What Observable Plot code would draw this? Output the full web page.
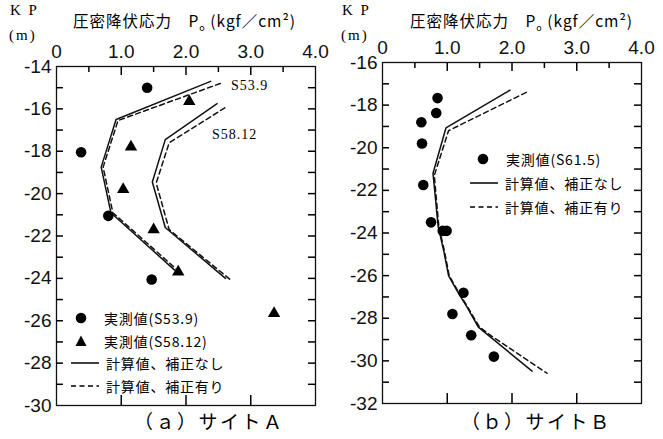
<!DOCTYPE html>
<html><head><meta charset="utf-8">
<script src="https://cdn.jsdelivr.net/npm/d3@7"></script>
<script src="https://cdn.jsdelivr.net/npm/@observablehq/plot@0.6"></script>
<style>
body{margin:0;background:#fff;}
#wrap{position:relative;width:663px;height:439px;overflow:hidden;font-family:"Noto Sans CJK JP",sans-serif;color:#000;}
.abs{position:absolute;white-space:nowrap;}
.panel{position:absolute;top:0;}
.leg{position:absolute;display:flex;align-items:center;font-size:14px;letter-spacing:0.8px;white-space:nowrap;}
.leg svg{margin-right:6px;}
</style></head>
<body><div id="wrap"></div>
<script>
// ---- Panel A (サイトA) ----
const aObs539X = [1.40, 0.38, 0.80, 1.47];
const aObs539Y = [-15.0, -18.05, -21.05, -24.05];
const aObs5812X = [2.05, 1.15, 1.03, 1.50, 1.88, 3.36];
const aObs5812Y = [-15.65, -17.8, -19.8, -21.7, -23.7, -25.65];
const aCalc539NoX = [2.38, 0.92, 0.69, 0.84, 1.82];
const aCalc539NoY = [-14.7, -16.5, -18.75, -20.9, -23.6];
const aCalc539CorX = [2.53, 0.95, 0.72, 0.87, 1.92];
const aCalc539CorY = [-14.8, -16.55, -18.75, -20.9, -23.75];
const aCalc5812NoX = [2.48, 1.68, 1.48, 1.68, 2.61];
const aCalc5812NoY = [-15.75, -17.45, -19.45, -21.6, -24.0];
const aCalc5812CorX = [2.60, 1.74, 1.54, 1.74, 2.70];
const aCalc5812CorY = [-15.95, -17.6, -19.5, -21.7, -24.1];
// ---- Panel B (サイトB) ----
const bObsX = [0.85, 0.83, 0.60, 0.61, 0.63, 0.75, 0.93, 0.99, 1.25, 1.08, 1.37, 1.72];
const bObsY = [-17.67, -18.37, -18.8, -19.8, -21.75, -23.5, -23.9, -23.9, -26.8, -27.8, -28.8, -29.8];
const bCalcNoX = [1.97, 0.98, 0.78, 0.86, 0.95, 1.02, 1.15, 1.31, 1.48, 2.31];
const bCalcNoY = [-17.3, -19.07, -21.2, -23.7, -24.9, -26.0, -26.7, -27.5, -28.42, -30.48];
const bCalcCorX = [2.22, 1.02, 0.80, 0.87, 0.96, 1.03, 1.16, 1.32, 1.50, 1.69, 2.54];
const bCalcCorY = [-17.4, -19.2, -21.3, -23.7, -24.9, -26.0, -26.7, -27.5, -28.42, -28.85, -30.58];
// ---- ticks / labels ----
const xTicks = [0, 1, 2, 3, 4];
const xHalf = [0.5, 1.5, 2.5, 3.5];
const xMajor = [1, 2, 3];
const aYTicks = [-14, -16, -18, -20, -22, -24, -26, -28, -30];
const bYTicks = [-16, -18, -20, -22, -24, -26, -28, -30, -32];
const xLabel = "圧密降伏応力　P<sub style='font-size:9px'>o</sub> (kgf／cm²)";
const captions = ["（ａ）サイトＡ", "（ｂ）サイトＢ"];
const legA = ["実測値(S53.9)", "実測値(S58.12)", "計算値、補正なし", "計算値、補正有り"];
const legB = ["実測値(S61.5)", "計算値、補正なし", "計算値、補正有り"];
const annA = ["S53.9", "S58.12"];

const pts = (xs, ys) => xs.map((x, i) => ({x, y: ys[i]}));
const FONT = "Liberation Sans, Arial, sans-serif";

function panel({left, width, ml, mr, mt, mb, yDomain, yTicks, series, dots}) {
  const innerW = width - ml - mr;
  const innerH = 439 - mt - mb;
  const [yLo, yHi] = yDomain;
  const px = innerW / 4;                 // pixels per x unit
  const py = innerH / (yHi - yLo);       // pixels per y unit
  const yMinor = d3.range(yLo + 1, yHi, 1);
  const st = {stroke: "#000", strokeWidth: 1.5};
  const marks = [
    Plot.frame({stroke: "#111", strokeWidth: 1.3}),
    // inward ticks
    Plot.ruleX(xHalf, {...st, x: d => d, y1: yHi, y2: yHi - 6 / py}),
    Plot.ruleX(xMajor, {...st, x: d => d, y1: yHi, y2: yHi - 9 / py}),
    Plot.ruleX(xMajor, {...st, x: d => d, y1: yLo, y2: yLo + 10 / py}),
    Plot.ruleY(yMinor, {...st, y: d => d, x1: 0, x2: 7 / px}),
    Plot.ruleY(yMinor, {...st, y: d => d, x1: 4, x2: 4 - 7 / px}),
    Plot.axisX({anchor: "top", ticks: xTicks, tickSize: 0, tickPadding: 9, fontSize: 19, label: null,
      tickFormat: d => d === 0 ? "0" : d.toFixed(1)}),
    Plot.axisY({anchor: "left", ticks: yTicks, tickSize: 0, tickPadding: 5, fontSize: 19, label: null,
      tickFormat: d => String(d)})
  ];
  for (const s of series) {
    marks.push(Plot.line(s.data, {x: "x", y: "y", stroke: "#111", strokeWidth: 1.5,
      strokeDasharray: s.dash ? "5,3.5" : null}));
  }
  for (const d of dots) {
    marks.push(Plot.dot(d.data, {x: "x", y: "y", fill: "#000", stroke: "none",
      symbol: d.symbol, r: d.symbol === "triangle" ? 4.6 : 5.3}));
  }
  const svg = Plot.plot({
    width, height: 439, marginLeft: ml, marginRight: mr, marginTop: mt, marginBottom: mb,
    x: {domain: [0, 4], axis: null, label: null},
    y: {domain: yDomain, axis: null, label: null},
    style: {fontFamily: FONT, fontSize: "19px", color: "#111", background: "transparent"},
    marks
  });
  svg.classList.add("panel");
  svg.style.left = left + "px";
  return svg;
}

const wrap = document.getElementById("wrap");
wrap.appendChild(panel({
  left: 0, width: 330, ml: 56, mr: 15, mt: 66, mb: 34, yDomain: [-30, -14], yTicks: aYTicks,
  series: [
    {data: pts(aCalc539NoX, aCalc539NoY), dash: false},
    {data: pts(aCalc539CorX, aCalc539CorY), dash: true},
    {data: pts(aCalc5812NoX, aCalc5812NoY), dash: false},
    {data: pts(aCalc5812CorX, aCalc5812CorY), dash: true}
  ],
  dots: [
    {data: pts(aObs539X, aObs539Y), symbol: "circle"},
    {data: pts(aObs5812X, aObs5812Y), symbol: "triangle"}
  ]
}));
wrap.appendChild(panel({
  left: 330, width: 333, ml: 52, mr: 22, mt: 62, mb: 36, yDomain: [-32, -16], yTicks: bYTicks,
  series: [
    {data: pts(bCalcNoX, bCalcNoY), dash: false},
    {data: pts(bCalcCorX, bCalcCorY), dash: true}
  ],
  dots: [{data: pts(bObsX, bObsY), symbol: "circle"}]
}));

function addText(html, x, y, css) {
  const d = document.createElement("div");
  d.className = "abs";
  d.innerHTML = html;
  d.style.left = x + "px"; d.style.top = y + "px";
  Object.assign(d.style, css || {});
  wrap.appendChild(d);
}
const serif = {fontFamily: "'Liberation Serif', 'DejaVu Serif', serif", fontSize: "15px", letterSpacing: "2px"};
// KP (m) and axis titles
addText("K P", 10, 2, serif);
addText("(m)", 9, 27, serif);
addText("K P", 342, 2, serif);
addText("(m)", 341, 27, serif);
addText(xLabel, 73, 9, {fontSize: "15.5px", letterSpacing: "1px"});
addText(xLabel, 410, 9, {fontSize: "15.5px", letterSpacing: "1px"});
// captions
addText(captions[0], 134, 407, {fontSize: "19px", letterSpacing: "2.5px"});
addText(captions[1], 461, 407, {fontSize: "19px", letterSpacing: "2.5px"});
// annotations
const annCss = {fontFamily: "'Liberation Serif', serif", fontSize: "14px", letterSpacing: "1px"};
addText(annA[0], 231, 78, annCss);
addText(annA[1], 212, 127, annCss);

function swatch(kind) {
  if (kind === "circle") return `<svg width="28" height="14"><circle cx="11" cy="7" r="5.3" fill="#000"/></svg>`;
  if (kind === "triangle") return `<svg width="28" height="14"><path d="M11,1.5 L16.5,12 L5.5,12 Z" fill="#000"/></svg>`;
  const dash = kind === "dash" ? "stroke-dasharray='5,3.5'" : "";
  return `<svg width="30" height="14"><line x1="1" y1="7" x2="29" y2="7" stroke="#000" stroke-width="1.5" ${dash}/></svg>`;
}
function legend(x, y, kind, text) {
  const d = document.createElement("div");
  d.className = "leg";
  d.style.left = x + "px"; d.style.top = (y - 10) + "px"; d.style.height = "20px";
  d.innerHTML = swatch(kind) + `<span>${text}</span>`;
  wrap.appendChild(d);
}
legend(70, 318, "circle", legA[0]);
legend(70, 341, "triangle", legA[1]);
legend(70, 363, "solid", legA[2]);
legend(70, 386, "dash", legA[3]);
legend(472, 159, "circle", legB[0]);
legend(469, 183, "solid", legB[1]);
legend(469, 207, "dash", legB[2]);
</script></body></html>
